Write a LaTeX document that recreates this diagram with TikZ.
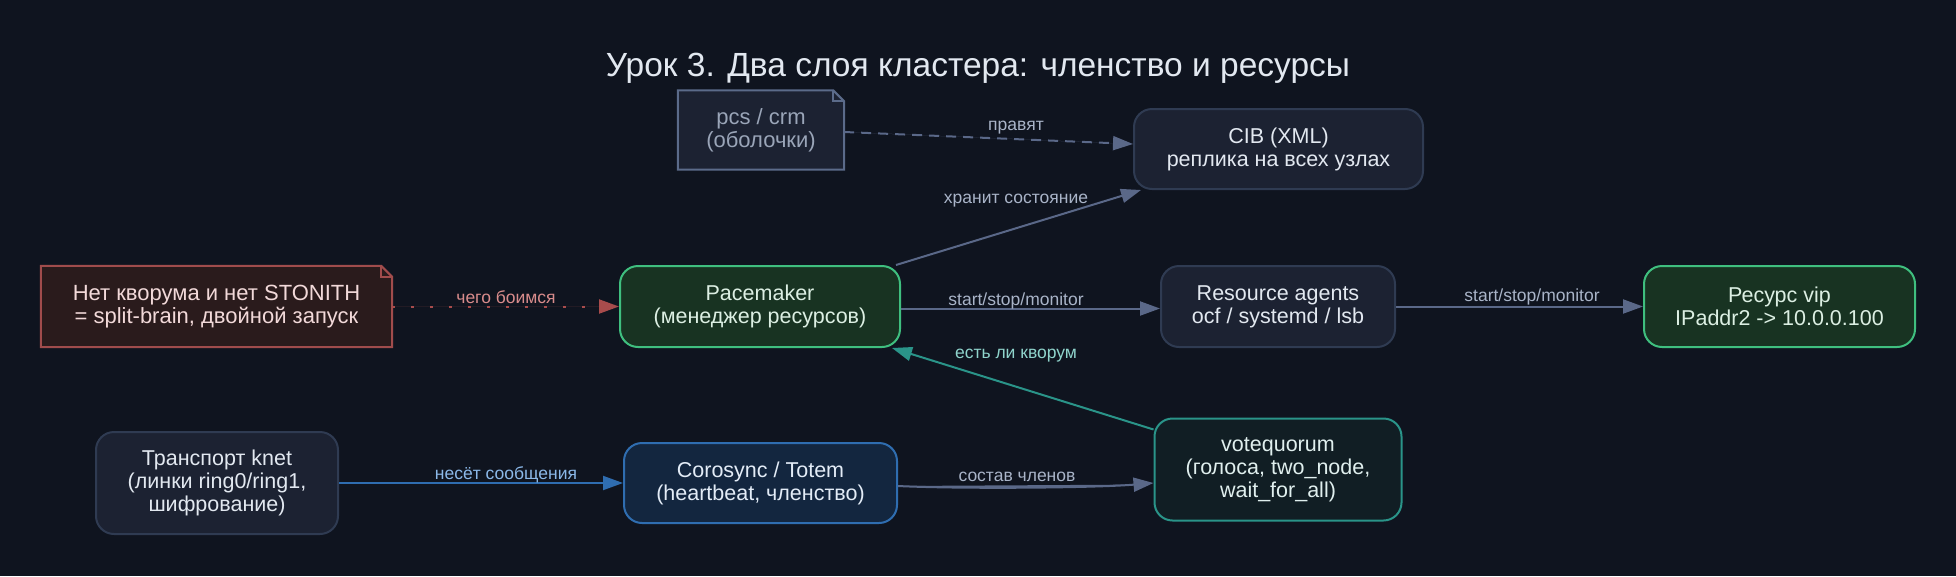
\documentclass[tikz,border=0pt]{standalone}
\usepackage{fontspec}
\setmainfont{Liberation Sans}
\usetikzlibrary{arrows.meta}
\pgfdeclarelayer{background}
\pgfsetlayers{background,main}

\definecolor{bg}{HTML}{0F141F}
\definecolor{nfill}{HTML}{1C2232}
\definecolor{nborder}{HTML}{2F3B52}
\definecolor{ntext}{HTML}{E2E8F0}
\definecolor{pborder}{HTML}{5B6B8A}
\definecolor{ptext}{HTML}{9AA5B8}
\definecolor{gfill}{HTML}{183322}
\definecolor{gborder}{HTML}{3FBF7F}
\definecolor{gtext}{HTML}{DCEFE3}
\definecolor{rfill}{HTML}{2A1B1C}
\definecolor{rborder}{HTML}{A04C4C}
\definecolor{rtext}{HTML}{F2D9D9}
\definecolor{bfill}{HTML}{13263F}
\definecolor{bborder}{HTML}{2F6DB0}
\definecolor{btext}{HTML}{E3ECF7}
\definecolor{tfill}{HTML}{111E24}
\definecolor{tborder}{HTML}{2A9489}
\definecolor{ttext}{HTML}{E0EFEE}
\definecolor{edgegray}{HTML}{5A6888}
\definecolor{labgray}{HTML}{A9B4C8}
\definecolor{labteal}{HTML}{8FD4CC}
\definecolor{labblue}{HTML}{8BB8E8}
\definecolor{labred}{HTML}{D98C8C}
\definecolor{edgered}{HTML}{A84C4C}

\begin{document}
\begin{tikzpicture}[x=1pt,y=-1pt,
  box/.style={rectangle, rounded corners=18pt, line width=2pt, inner sep=0pt,
    align=center, font=\fontsize{21.5}{23}\selectfont},
  plainbox/.style={box, draw=nborder, fill=nfill, text=ntext},
  greenbox/.style={box, draw=gborder, fill=gfill, text=gtext},
  bluebox/.style={box, draw=bborder, fill=bfill, text=btext},
  tealbox/.style={box, draw=tborder, fill=tfill, text=ttext},
  notebox/.style={rectangle, inner sep=0pt, align=center, font=\fontsize{22}{23}\selectfont},
  lab/.style={inner sep=0pt, font=\fontsize{17.5}{19}\selectfont},
  edge/.style={line width=2pt, -{Triangle[length=20pt,width=14pt]}},
]
\begin{pgfonlayer}{background}
\fill[bg] (0,0) rectangle (1956,576);
\end{pgfonlayer}
\useasboundingbox (0,0) rectangle (1956,576);

% title
\node[text=ntext, font=\fontsize{33.5}{36}\selectfont] (title) at (978,68) {Урок 3. Два слоя кластера: членство и ресурсы};

% nodes
\node[notebox, text=ptext, minimum width=166pt, minimum height=79pt] (pcs) at (761,130) {pcs / crm\\(оболочки)};
\node[plainbox, minimum width=289pt, minimum height=80pt] (cib) at (1278.5,149) {CIB (XML)\\реплика на всех узлах};
\node[notebox, text=rtext, minimum width=351pt, minimum height=81pt] (fear) at (216.5,306.5) {Нет кворума и нет STONITH\\= split-brain, двойной запуск};
\node[greenbox, minimum width=280pt, minimum height=81pt] (pace) at (760,306.5) {Pacemaker\\(менеджер ресурсов)};
\node[plainbox, minimum width=234pt, minimum height=81pt] (ra) at (1278,306.5) {Resource agents\\ocf / systemd / lsb};
\node[greenbox, minimum width=271pt, minimum height=81pt] (vip) at (1779.5,306.5) {Ресурс vip\\IPaddr2 -> 10.0.0.100};
\node[plainbox, minimum width=242pt, minimum height=102pt] (knet) at (217,483) {Транспорт knet\\(линки ring0/ring1,\\шифрование)};
\node[bluebox, minimum width=273pt, minimum height=80pt] (coro) at (760.5,483) {Corosync / Totem\\(heartbeat, членство)};
\node[tealbox, minimum width=247pt, minimum height=102pt] (vq) at (1278,469.5) {votequorum\\(голоса, two\_node,\\wait\_for\_all)};

% note shapes
\begin{pgfonlayer}{background}
\draw[line width=2pt, draw=pborder, fill=nfill, line join=miter]
  (pcs.north west) -- ([xshift=-11pt]pcs.north east) -- ([yshift=-11pt]pcs.north east)
  -- (pcs.south east) -- (pcs.south west) -- cycle;
\draw[line width=2pt, draw=rborder, fill=rfill, line join=miter]
  (fear.north west) -- ([xshift=-11pt]fear.north east) -- ([yshift=-11pt]fear.north east)
  -- (fear.south east) -- (fear.south west) -- cycle;
\end{pgfonlayer}
\draw[line width=2pt, draw=pborder]
  ([xshift=-11pt]pcs.north east) -- ([xshift=-11pt,yshift=-11pt]pcs.north east) -- ([yshift=-11pt]pcs.north east);
\draw[line width=2pt, draw=rborder]
  ([xshift=-11pt]fear.north east) -- ([xshift=-11pt,yshift=-11pt]fear.north east) -- ([yshift=-11pt]fear.north east);

% edges
\draw[edge, draw=edgegray, fill=edgegray, dash pattern=on 10pt off 7pt]
  ([yshift=-2pt]pcs.east) -- ([yshift=5pt]cib.west);
\draw[edge, draw=edgegray, fill=edgegray]
  ([xshift=-5pt]pace.north east) -- ([xshift=8pt]cib.south west);
\draw[edge, draw=edgered, fill=edgered, dash pattern=on 3pt off 16pt]
  (fear.east) -- (pace.west);
\draw[edge, draw=edgegray, fill=edgegray]
  ([yshift=-2pt]pace.east) -- ([yshift=-2pt]ra.west);
\draw[edge, draw=edgegray, fill=edgegray]
  (ra.east) -- (vip.west);
\draw[edge, draw=tborder, fill=tborder]
  ([yshift=-12pt]vq.north west) -- ([xshift=-9pt]pace.south east);
\draw[edge, draw=bborder, fill=bborder]
  (knet.east) -- (coro.west);
\draw[edge, draw=edgegray, fill=edgegray]
  ([yshift=-3pt]coro.east) .. controls +(60,3) and +(-60,5) .. ([yshift=-13.5pt]vq.west);

% edge labels
\node[lab, text=labgray] (lpravyat) at (1016,128) {правят};
\node[lab, text=labgray] (lhranit) at (1016,201) {хранит состояние};
\node[lab, text=labred] (lboimsya) at (506,297) {чего боимся};
\node[lab, text=labgray] (lssm1) at (1016,301) {start/stop/monitor};
\node[lab, text=labgray] (lssm2) at (1532,297) {start/stop/monitor};
\node[lab, text=labteal] (lkvorum) at (1016,356) {есть ли кворум};
\node[lab, text=labblue] (lnesyot) at (506,475) {несёт сообщения};
\node[lab, text=labgray] (lsostav) at (1017,477) {состав членов};
\end{tikzpicture}
\end{document}
